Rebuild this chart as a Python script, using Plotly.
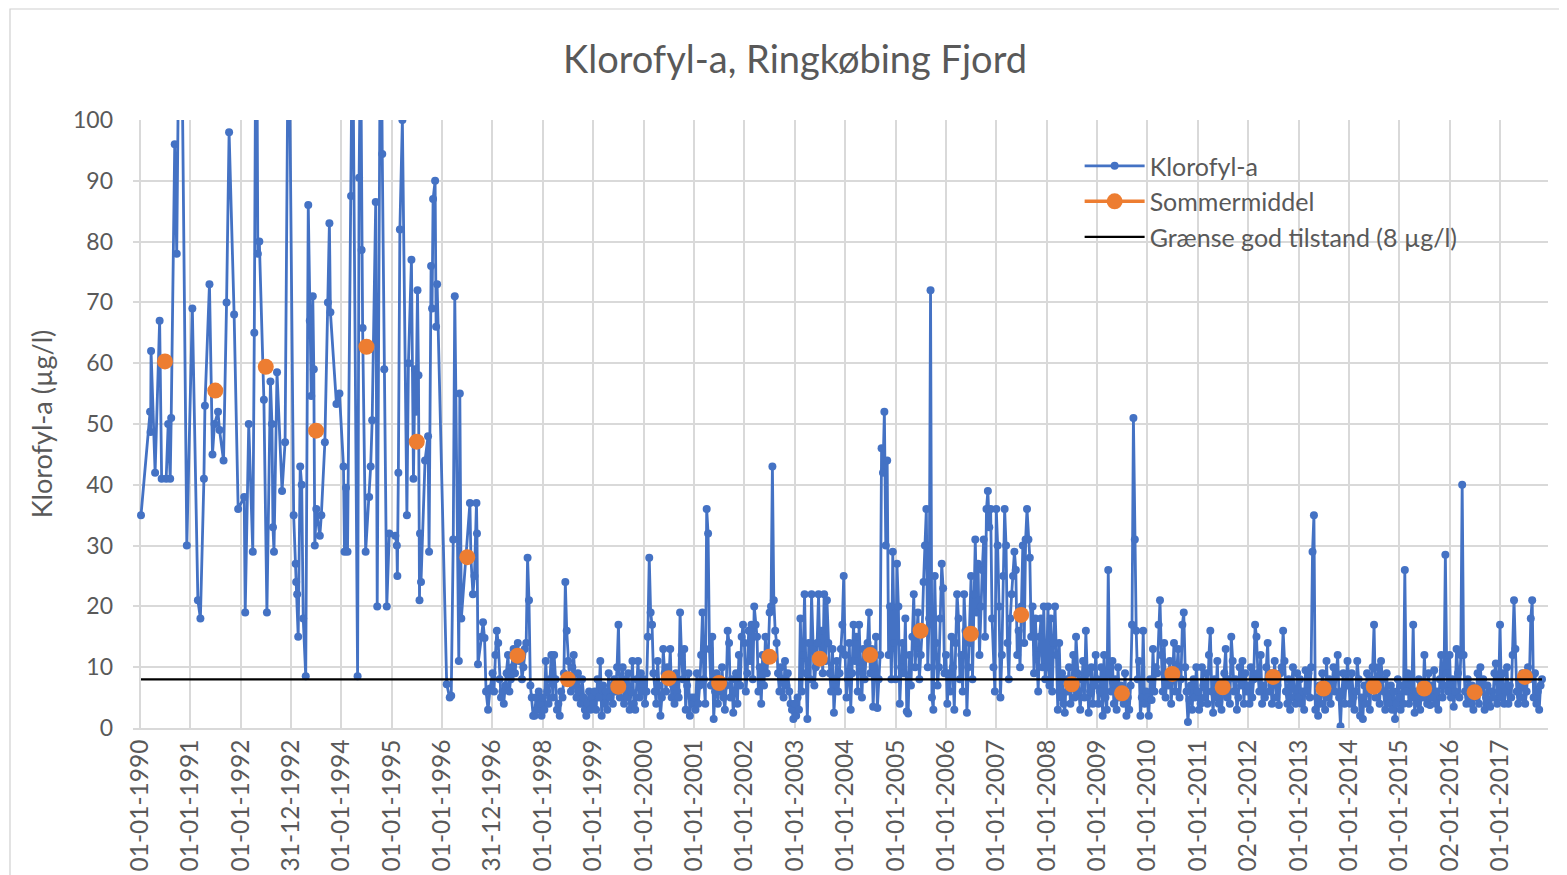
import plotly.graph_objects as go
import pandas as pd

# ---------------- DATA ----------------
# 1990-1996: sampling times as decimal years, and chlorophyll-a values (µg/l)
early_time = [
    1990.02, 1990.20, 1990.21, 1990.22, 1990.30, 1990.39, 1990.43, 1990.52, 1990.56, 1990.60,
    1990.62, 1990.69, 1990.73, 1990.80, 1990.93,
    1991.04, 1991.15, 1991.20, 1991.27, 1991.29, 1991.38, 1991.44, 1991.48, 1991.55, 1991.58,
    1991.66, 1991.72, 1991.77, 1991.87, 1991.95,
    1992.07, 1992.09, 1992.16, 1992.24, 1992.27, 1992.31, 1992.34, 1992.37, 1992.46, 1992.52,
    1992.59, 1992.62, 1992.64, 1992.66, 1992.72, 1992.82, 1992.88, 1992.95,
    1993.05, 1993.09, 1993.10, 1993.12, 1993.14, 1993.18, 1993.21, 1993.24, 1993.29, 1993.34,
    1993.37, 1993.40, 1993.43, 1993.45, 1993.47, 1993.50, 1993.57, 1993.60, 1993.67, 1993.73,
    1993.76, 1993.78, 1993.90, 1993.96,
    1994.04, 1994.06, 1994.09, 1994.12, 1994.19, 1994.22, 1994.32, 1994.35, 1994.38, 1994.40,
    1994.42, 1994.48, 1994.55, 1994.58, 1994.61, 1994.68, 1994.71, 1994.78, 1994.81, 1994.85,
    1994.90, 1994.95,
    1995.07, 1995.10, 1995.11, 1995.13, 1995.16, 1995.21, 1995.30, 1995.33, 1995.39, 1995.43,
    1995.46, 1995.48, 1995.51, 1995.53, 1995.55, 1995.56, 1995.58, 1995.66, 1995.72, 1995.74,
    1995.78, 1995.80, 1995.82, 1995.86, 1995.88, 1995.90,
    1996.09, 1996.15, 1996.18, 1996.22, 1996.25, 1996.33, 1996.35, 1996.38, 1996.55, 1996.57,
    1996.61, 1996.64, 1996.68, 1996.69, 1996.71, 1996.78, 1996.81, 1996.84, 1996.87, 1996.91,
    1996.95,
]
early_chl = [
    35, 52, 48.7, 62, 42, 67, 41, 41, 50, 41,
    51, 96, 78, 140, 30,
    69, 21, 18, 41, 53, 73, 45, 50, 52, 49,
    44, 70, 98, 68, 36,
    38, 19, 50, 29, 65, 135, 78, 80, 54, 19,
    57, 50, 33, 29, 58.5, 39, 47, 125,
    35, 27, 24, 22, 15, 43, 40, 18, 8.5, 86,
    67, 54.6, 71, 59, 30, 36, 31.6, 35, 47, 70,
    83, 68.4, 53.3, 55,
    43, 29, 39.5, 29, 87.5, 120, 8.5, 90.5, 115, 78.6,
    65.8, 29, 38, 43, 50.6, 86.5, 20, 130, 94.4, 59,
    20, 32,
    31.6, 30, 25, 42, 82, 100, 35, 60, 77, 41,
    59, 52, 72, 58, 21, 32, 24, 44, 48, 29,
    76, 69, 87, 90, 66, 73,
    7.2, 5, 5.3, 31, 71, 11, 55, 18, 37, 28,
    22, 25, 37, 32, 10.5, 15, 17.4, 14.8, 6, 3,
    6.5,
]

# 1997-2017: values per year, sampled ~every 10 days (36 samples per year)
SAMPLES_PER_YEAR = 36
chl_1997 = [9, 6, 12, 16, 14, 8, 5, 6, 4, 7, 9, 12, 6, 8, 10, 13, 9, 12, 14, 11, 12, 8, 10, 13, 14, 28, 21, 7, 5, 2, 2, 5, 3, 6, 4, 2]
chl_1998 = [5, 3, 11, 6, 4, 8, 12, 5, 12, 8, 3, 4, 2, 6, 5, 9, 24, 16, 11, 8, 6, 10, 12, 7, 5, 9, 6, 4, 8, 5, 3, 2, 4, 6, 3, 5]
chl_1999 = [4, 6, 3, 8, 5, 11, 2, 7, 4, 6, 3, 9, 5, 7, 4, 8, 6, 10, 17, 5, 7, 10, 4, 8, 5, 9, 3, 6, 11, 4, 3, 8, 11, 5, 9, 6]
chl_2000 = [8, 4, 6, 15, 28, 19, 17, 9, 6, 4, 11, 7, 2, 5, 13, 9, 6, 10, 8, 13, 5, 7, 4, 9, 6, 5, 19, 12, 8, 13, 3, 7, 9, 2, 5, 4]
chl_2001 = [5, 3, 9, 4, 7, 12, 19, 8, 4, 36, 32, 13, 7, 15, 1.5, 6, 9, 4, 8, 6, 10, 5, 3, 7, 16, 14, 5, 8, 2.5, 6, 9, 4, 12, 7, 15, 17]
chl_2002 = [14, 6, 9, 16, 11, 17, 8, 20, 17, 15, 6, 10, 4, 12, 7, 15, 9, 12, 19, 20, 43, 21, 16, 14, 9, 6, 10, 8, 5, 11, 7, 9, 6, 4, 3, 1.5]
chl_2003 = [4, 2, 5, 3, 18, 6, 12, 22, 9, 1.5, 14, 8, 22, 13, 7, 10, 14, 22, 12, 16, 9, 22, 11, 21, 14, 9, 6, 13, 2.5, 8, 11, 6, 9, 13, 17, 25]
chl_2004 = [12, 5, 8, 14, 3, 9, 17, 11, 15, 6, 17, 10, 5, 13, 8, 12, 14, 19, 9, 13, 3.5, 10, 15, 3.3, 8, 12, 46, 42, 52, 30, 44, 12, 20, 8, 29, 14]
chl_2005 = [8, 27, 20, 4, 10, 14, 9, 18, 2.7, 2.4, 12, 7, 15, 22, 10, 14, 19, 8, 12, 16, 24, 30, 36, 10, 18, 72, 5, 3, 25, 14, 7, 10, 18, 27, 23, 9]
chl_2006 = [12, 4, 9, 6, 15, 10, 3, 14, 22, 18, 8, 12, 6, 22, 16, 2.5, 10, 14, 25, 8, 22, 31, 19, 27, 12, 20, 26, 31, 15, 36, 39, 33, 36, 18, 10, 6]
chl_2007 = [36, 30, 20, 5, 12, 25, 36, 30, 14, 8, 18, 22, 25, 29, 26, 12, 16, 10, 20, 30, 14, 31, 36, 31, 28, 15, 20, 9, 18, 12, 6, 15, 18, 10, 20, 8]
chl_2008 = [10, 20, 7, 18, 6, 14, 20, 12, 3, 14, 5, 9, 4, 2.5, 8, 6, 10, 4, 7, 12, 5, 15, 9, 6, 3, 8, 11, 5, 16, 9, 2.5, 6, 10, 4, 7, 12]
chl_2009 = [8, 4, 6, 10, 2, 12, 5, 3, 26, 9, 6, 11, 4, 8, 3, 10, 5, 7, 6, 4, 9, 2, 5, 3, 7, 17, 51, 31, 16, 8, 11, 2, 5, 16, 4, 6]
chl_2010 = [5, 2, 8, 4.6, 13, 6, 10, 9, 17, 21, 12, 6, 14, 5, 9, 7, 11, 4, 8, 14, 6, 10, 13, 5, 8, 17, 19, 10, 6, 1, 4.6, 7, 3, 8, 5, 10]
chl_2011 = [6, 3, 4, 10, 7, 5, 9, 4, 12, 16, 6, 2.5, 8, 5, 11, 4, 7, 3, 6, 9, 13, 5, 8, 4, 15, 11, 6, 8, 3, 5, 10, 7, 11, 4, 9, 6]
chl_2012 = [7, 4, 10, 5, 8, 17, 15, 9, 6, 12, 4, 7, 5, 10, 14, 6, 9, 4, 8, 11, 5, 7, 3.8, 9, 10, 16, 11, 6, 4, 8, 3, 7, 10, 5, 4, 9]
chl_2013 = [5, 8, 4, 6, 3, 9.5, 6, 9, 5, 10, 29, 35, 3, 5, 2, 7, 4, 9, 6, 3, 11, 5, 8, 4, 7, 10, 6, 9, 12, 5, 0.3, 6, 9, 4, 7, 11]
chl_2014 = [7, 4, 9, 5, 3, 6, 11, 8, 2, 5, 1.5, 7, 4, 9, 6, 3, 8, 10, 17, 5, 7, 10, 4, 11, 8, 6, 3, 9, 5, 4, 7, 3, 6, 1.5, 4, 8]
chl_2015 = [5, 3, 7, 4, 26, 6, 9, 4, 8, 5, 17, 2.5, 6, 4, 8, 3, 7, 5, 12, 6, 4, 9, 3.8, 7, 5, 9.5, 4, 6, 3, 8, 12, 5, 7, 28.5, 9, 6]
chl_2016 = [12, 5, 8, 3.5, 6, 13, 9, 5, 12, 40, 12, 6, 4, 8, 5, 4, 7, 3, 6, 5, 9, 4, 10, 6, 8, 3, 5, 7, 4, 3.5, 6, 5, 9, 10.6, 4, 6]
chl_2017 = [17, 5, 9, 4, 6, 10, 4, 7, 5, 12, 21, 13, 6, 4, 8, 5, 9, 7, 4, 6, 10, 8, 18, 21, 5, 9, 4, 6, 3, 7, 8]

late_years = [1997, 1998, 1999, 2000, 2001, 2002, 2003, 2004, 2005, 2006, 2007,
              2008, 2009, 2010, 2011, 2012, 2013, 2014, 2015, 2016, 2017]
late_series = [chl_1997, chl_1998, chl_1999, chl_2000, chl_2001, chl_2002, chl_2003,
               chl_2004, chl_2005, chl_2006, chl_2007, chl_2008, chl_2009, chl_2010,
               chl_2011, chl_2012, chl_2013, chl_2014, chl_2015, chl_2016, chl_2017]

# Summer means (Sommermiddel)
summer_years = list(range(1990, 2018))
summer_mean = [60.3, 55.5, 59.4, 48.9, 62.7, 47.1, 28.1, 11.9, 8.0, 6.8, 8.2, 7.4, 11.7, 11.4,
               12.0, 16.0, 15.5, 18.6, 7.2, 5.7, 8.9, 6.7, 8.4, 6.5, 6.8, 6.5, 5.9, 8.4]

limit_value = 8  # Grænse god tilstand (8 µg/l)

tick_labels = ["01-01-1990", "01-01-1991", "01-01-1992", "31-12-1992", "01-01-1994",
               "01-01-1995", "01-01-1996", "31-12-1996", "01-01-1998", "01-01-1999",
               "01-01-2000", "01-01-2001", "01-01-2002", "01-01-2003", "01-01-2004",
               "01-01-2005", "01-01-2006", "01-01-2007", "01-01-2008", "01-01-2009",
               "01-01-2010", "01-01-2011", "02-01-2012", "01-01-2013", "01-01-2014",
               "01-01-2015", "02-01-2016", "01-01-2017"]
y_ticks = list(range(0, 101, 10))


# ---------------- BUILD ----------------
def dec_to_ts(y):
    yr = int(y)
    start = pd.Timestamp(yr, 1, 1)
    end = pd.Timestamp(yr + 1, 1, 1)
    return start + (end - start) * (y - yr)


chl_x = [dec_to_ts(t) for t in early_time]
chl_y = list(early_chl)
for yr, vals in zip(late_years, late_series):
    for i, v in enumerate(vals):
        chl_x.append(dec_to_ts(yr + i / SAMPLES_PER_YEAR))
        chl_y.append(v)

sm_x, sm_y = [], []
for yr, v in zip(summer_years, summer_mean):
    sm_x += [pd.Timestamp(yr, 7, 1), pd.Timestamp(yr, 7, 2)]
    sm_y += [v, None]

tick_vals = [pd.to_datetime(t, format="%d-%m-%Y") for t in tick_labels]

BLUE = "#4472C4"
ORANGE = "#ED7D31"
GRID = "#D9D9D9"
TXT = "#595959"
FONT = "Lato, 'Open Sans', sans-serif"

# page offset of 8px (body margin) is accounted for in the figure size / margins
PLOT_L, PLOT_R, PLOT_T, PLOT_B = 133, 1548, 120, 728   # page pixels of plot area
PW, PH = PLOT_R - PLOT_L, PLOT_B - PLOT_T

fig = go.Figure()
fig.add_trace(go.Scatter(
    x=chl_x, y=chl_y, name="Klorofyl-a", mode="lines+markers",
    line=dict(color=BLUE, width=2.8),
    marker=dict(color=BLUE, size=8),
))
fig.add_trace(go.Scatter(
    x=sm_x, y=sm_y, name="Sommermiddel", mode="lines+markers",
    connectgaps=False,
    line=dict(color=ORANGE, width=3.5),
    marker=dict(color=ORANGE, size=16),
))
fig.add_trace(go.Scatter(
    x=[chl_x[0], chl_x[-1]], y=[limit_value, limit_value],
    name="Grænse god tilstand (8 µg/l)", mode="lines",
    line=dict(color="black", width=2.2),
))

fig.update_layout(
    width=1559, height=867,
    paper_bgcolor="white", plot_bgcolor="white",
    margin=dict(l=PLOT_L - 8, r=1567 - PLOT_R, t=PLOT_T - 8, b=875 - PLOT_B),
    font=dict(family=FONT, color=TXT, size=23),
    title=dict(text="Klorofyl-a, Ringkøbing Fjord", x=(795 - 8) / 1559, xanchor="center",
               y=1 - 52 / 867, yanchor="middle", font=dict(size=38, color=TXT, family=FONT)),
    showlegend=True,
    legend=dict(x=0.669, y=0.962, xanchor="left", yanchor="top",
                bgcolor="rgba(0,0,0,0)", font=dict(size=25, color=TXT, family=FONT),
                itemwidth=60, tracegroupgap=0),
    xaxis=dict(
        type="date", automargin=False,
        range=[dec_to_ts(1989.861), dec_to_ts(2017.953)],
        tickmode="array", tickvals=tick_vals, ticktext=tick_labels,
        tickangle=-90, tickfont=dict(size=24.5, color=TXT),
        showgrid=True, gridcolor=GRID, gridwidth=1.5,
        showline=True, linecolor=GRID, linewidth=1.5,
        zeroline=False, ticks="", ticklabelstandoff=0,
    ),
    yaxis=dict(
        automargin=False,
        range=[0, 100], tickmode="array", tickvals=y_ticks,
        tickfont=dict(size=23, color=TXT),
        showgrid=True, gridcolor=GRID, gridwidth=1.5,
        zeroline=False, showline=False, ticks="", ticklabelstandoff=19,
        title=dict(text="Klorofyl-a (µg/l)", font=dict(size=27, color=TXT), standoff=12),
    ),
    shapes=[
        dict(type="rect", xref="paper", yref="paper",
             x0=(10 - PLOT_L) / PW, x1=(1600 - PLOT_L) / PW,
             y0=(PLOT_B - 900) / PH, y1=(PLOT_B - 9) / PH,
             line=dict(color="#D0D0D0", width=1.2), fillcolor="rgba(0,0,0,0)", layer="below"),
    ],
)

fig.write_html("out.html")
